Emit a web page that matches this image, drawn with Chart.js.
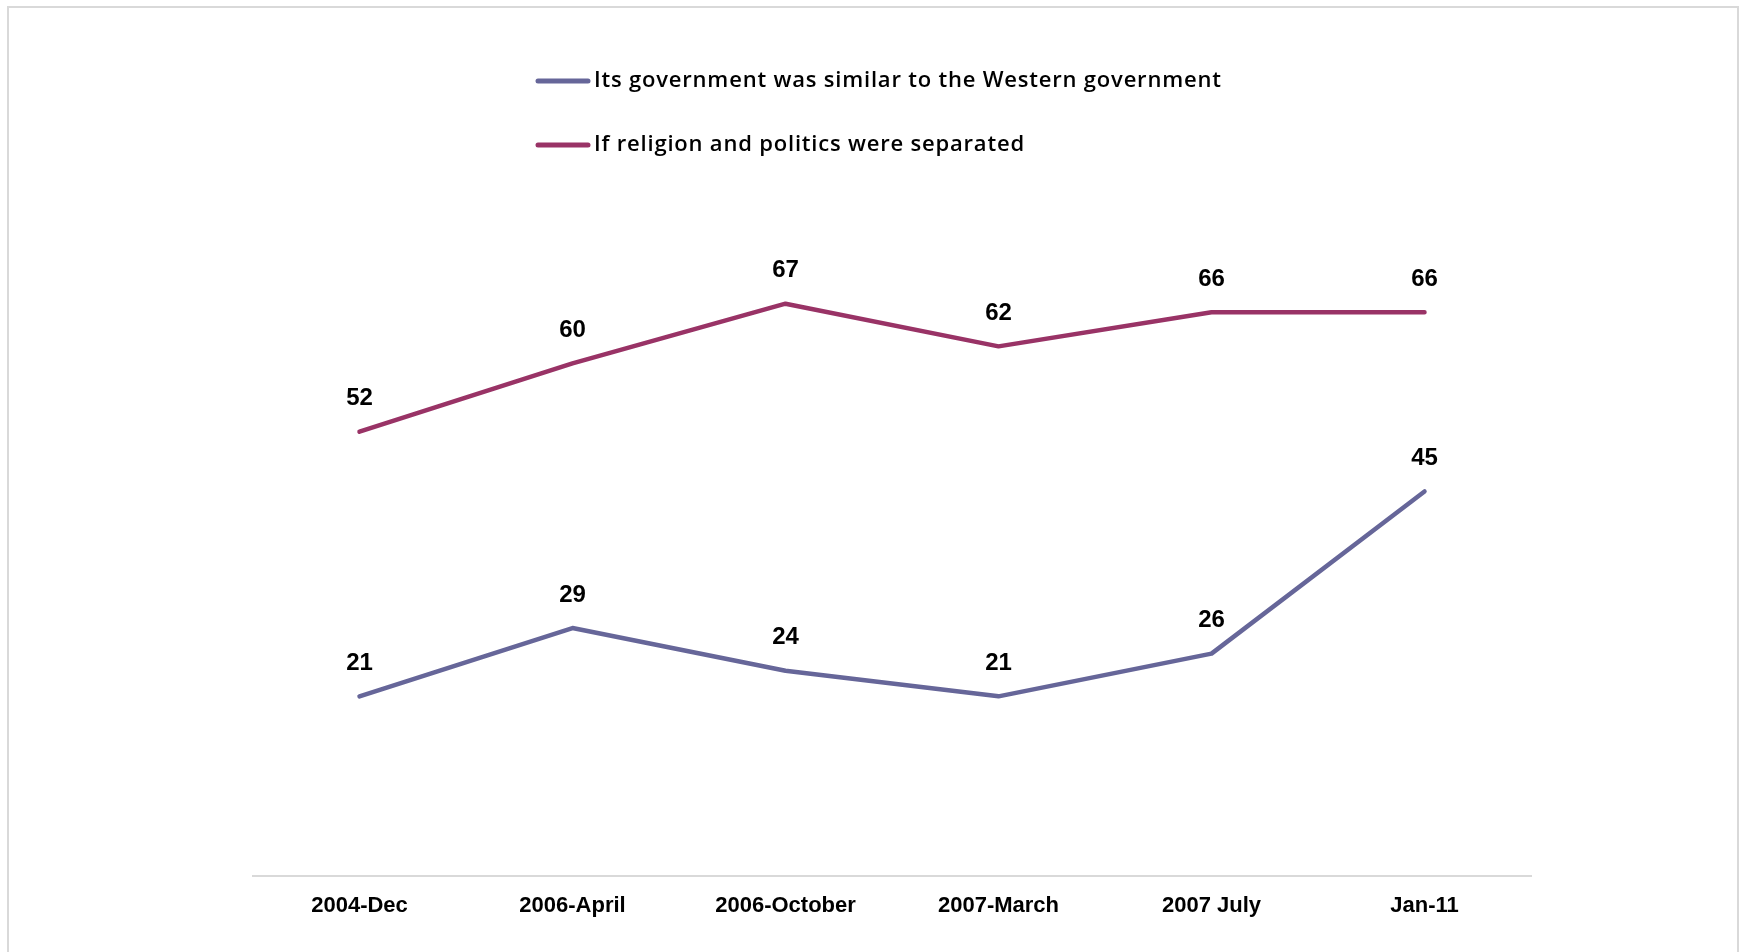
<!DOCTYPE html>
<html>
<head>
<meta charset="utf-8">
<script src="https://cdn.jsdelivr.net/npm/chart.js@4"></script>
<style>
  html, body { margin: 0; padding: 0; background: #fff; overflow: hidden; }
  #wrap { position: relative; width: 1739px; height: 952px; }
  #frame { position: absolute; left: 7px; top: 6px; width: 1728px; height: 960px; border: 2px solid #d9d9d9; pointer-events: none; }
  canvas { position: absolute; left: 0; top: 0; }
</style>
</head>
<body>
<div id="wrap">
  <canvas id="chart" width="1739" height="952"></canvas>
  <div id="frame"></div>
</div>
<script>
// survey rounds
const periods = ['2004-Dec', '2006-April', '2006-October', '2007-March', '2007 July', 'Jan-11'];
const westernGov = [21, 29, 24, 21, 26, 45];
const separated = [52, 60, 67, 62, 66, 66];
const seriesNames = ['Its government was similar to the Western government', 'If religion and politics were separated'];

// values above each point
const pointLabels = {
  id: 'pointLabels',
  afterDatasetsDraw(chart) {
    const ctx = chart.ctx;
    ctx.save();
    ctx.font = 'bold 24px "Liberation Sans", Arial, sans-serif';
    ctx.fillStyle = '#000';
    ctx.textAlign = 'center';
    ctx.textBaseline = 'middle';
    chart.data.datasets.forEach((ds, i) => {
      chart.getDatasetMeta(i).data.forEach((pt, j) => {
        ctx.fillText(String(ds.data[j]), pt.x, pt.y - 33);
      });
    });
    ctx.restore();
  }
};

// legend sits inside the plot, stacked and left aligned
const insideLegend = {
  id: 'insideLegend',
  afterDraw(chart) {
    const ctx = chart.ctx;
    const x0 = 538, rows = [81, 145];
    ctx.save();
    ctx.font = '600 22px "Open Sans", "Liberation Sans", sans-serif';
    ctx.letterSpacing = '0.8px';
    ctx.textBaseline = 'middle';
    ctx.lineCap = 'round';
    chart.data.datasets.forEach((ds, i) => {
      const y = rows[i];
      ctx.strokeStyle = ds.borderColor;
      ctx.lineWidth = 5;
      ctx.beginPath(); ctx.moveTo(x0, y); ctx.lineTo(x0 + 50, y); ctx.stroke();
      ctx.fillStyle = '#000';
      ctx.fillText(ds.label, x0 + 56, y);
    });
    ctx.restore();
  }
};

new Chart(document.getElementById('chart'), {
  type: 'line',
  data: {
    labels: periods,
    datasets: [
      { label: seriesNames[0], data: westernGov, borderColor: '#666699', backgroundColor: '#666699', borderWidth: 4.5, pointRadius: 0, tension: 0, borderCapStyle: 'round', borderJoinStyle: 'round' },
      { label: seriesNames[1], data: separated, borderColor: '#993366', backgroundColor: '#993366', borderWidth: 4.5, pointRadius: 0, tension: 0, borderCapStyle: 'round', borderJoinStyle: 'round' }
    ]
  },
  options: {
    responsive: false,
    animation: false,
    layout: { padding: { left: 253, right: 208, top: 22, bottom: 16 } },
    plugins: { legend: { display: false }, tooltip: { enabled: false } },
    scales: {
      x: {
        offset: true,
        grid: { display: false, drawTicks: false },
        border: { display: true, color: '#d9d9d9', width: 2 },
        ticks: { color: '#000', padding: 17, font: { family: '"Liberation Sans", Arial, sans-serif', size: 22, weight: 'bold' }, maxRotation: 0 }
      },
      y: { display: false, min: 0, max: 100 }
    }
  },
  plugins: [pointLabels, insideLegend]
});
</script>
</body>
</html>
